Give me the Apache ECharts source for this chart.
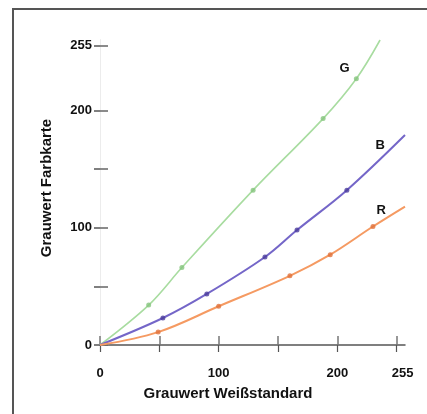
<!DOCTYPE html>
<html><head><meta charset="utf-8">
<script src="https://cdn.jsdelivr.net/npm/echarts@6/dist/echarts.min.js"></script>
<style>html,body{margin:0;padding:0;background:#fff}#c{width:427px;height:414px}</style>
</head><body><div id="c"></div>
<script>
var gX = [41, 69, 129, 188, 216];
var gY = [34, 66, 132, 193, 227];
var bX = [53, 90, 139, 166, 208];
var bY = [23, 43.5, 75, 98, 132];
var rX = [49, 100, 160, 194, 230];
var rY = [11, 33, 59, 77, 101];
// curve ends (fitted line at the plot edge)
var gEnd = [236, 260];
var bEnd = [257, 179];
var rEnd = [257, 118];
// tick values / labels
var xTicks = [0, 50, 100, 150, 200, 250];
var xLabels = [0, 100, 200, 255];
var yTicks = [0, 50, 100, 150, 200, 255];
var yLabels = [0, 100, 200, 255];
var seriesNames = ['G', 'B', 'R'];
var labelPos = { G: [206, 236], B: [236, 170], R: [237, 115] };

function pts(xs, ys) { return xs.map(function (x, i) { return [x, ys[i]]; }); }
function curve(xs, ys, end) { return [[0, 0]].concat(pts(xs, ys), [end]); }

var FONT = '"Liberation Sans", Arial, sans-serif';
var chart = echarts.init(document.getElementById('c'), null, { renderer: 'canvas' });

var colors = { G: ['#a8dca0', '#86c47e'], B: ['#7466c8', '#4b3c9c'], R: ['#f59a62', '#e0723c'] };
var data = { G: [gX, gY, gEnd], B: [bX, bY, bEnd], R: [rX, rY, rEnd] };
var series = [];
seriesNames.forEach(function (n) {
  var d = data[n];
  series.push({
    type: 'line', name: n, data: curve(d[0], d[1], d[2]), smooth: 0.35, showSymbol: false,
    lineStyle: { color: colors[n][0], width: n === 'G' ? 1.6 : 2 }, clip: true, z: 2,
    markPoint: {
      symbol: 'circle', symbolSize: 0,
      label: { show: true, formatter: n, color: '#111', fontWeight: 'bold', fontSize: 13, fontFamily: FONT },
      data: [{ coord: labelPos[n] }]
    }
  });
  series.push({
    type: 'scatter', data: pts(d[0], d[1]), symbol: 'circle', symbolSize: 5,
    itemStyle: { color: colors[n][1] }, z: 3
  });
});

chart.setOption({
  animation: false,
  backgroundColor: '#fff',
  grid: { left: 100, right: 22, top: 40, bottom: 69 },
  xAxis: [{
    type: 'value', min: 0, max: 257, position: 'bottom',
    axisLine: { show: true, lineStyle: { color: '#555', width: 1.5 } },
    axisTick: { show: true, customValues: xTicks, length: 7, lineStyle: { color: '#555', width: 1.2 } },
    axisLabel: { customValues: xLabels, color: '#111', fontWeight: 'bold', fontSize: 13, fontFamily: FONT, margin: 22 },
    splitLine: { show: false }
  }, {
    type: 'value', min: 0, max: 257, position: 'top',
    axisLine: { show: false },
    axisTick: { show: true, customValues: xTicks, length: 9, lineStyle: { color: '#777', width: 1.5 } },
    axisLabel: { show: false }, splitLine: { show: false }
  }],
  yAxis: [{
    type: 'value', min: 0, max: 260, position: 'left',
    axisLine: { show: true, lineStyle: { color: '#e2e2e2', width: 1 } },
    axisTick: { show: true, customValues: yTicks, length: 6, lineStyle: { color: '#555', width: 1.5 } },
    axisLabel: { customValues: yLabels, color: '#111', fontWeight: 'bold', fontSize: 13, fontFamily: FONT, margin: 8 },
    splitLine: { show: false }
  }, {
    type: 'value', min: 0, max: 260, position: 'right',
    axisLine: { show: true, lineStyle: { color: '#ececec', width: 1 } },
    axisTick: { show: true, customValues: yTicks, length: 8, lineStyle: { color: '#666', width: 1.5 } },
    axisLabel: { show: false }, splitLine: { show: false }
  }],
  graphic: [
    { type: 'rect', shape: { x: 13, y: 9, width: 440, height: 440 }, style: { fill: 'none', stroke: '#555', lineWidth: 2 }, silent: true },
    { type: 'text', x: 228, y: 394, style: { text: 'Grauwert Weißstandard', fill: '#111', font: 'bold 15px ' + FONT, textAlign: 'center', textVerticalAlign: 'middle' } },
    { type: 'text', x: 47, y: 188, rotation: Math.PI / 2, style: { text: 'Grauwert Farbkarte', fill: '#111', font: 'bold 15px ' + FONT, textAlign: 'center', textVerticalAlign: 'middle' } }
  ],
  series: series
});
</script></body></html>
